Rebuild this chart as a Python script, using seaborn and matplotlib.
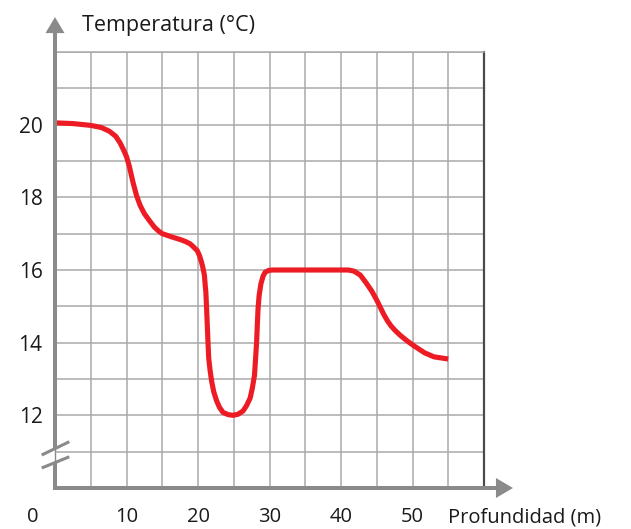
import matplotlib
matplotlib.use("Agg")
import matplotlib.pyplot as plt
import seaborn as sns
import pandas as pd
from matplotlib.ticker import MultipleLocator
from matplotlib.transforms import ScaledTranslation

# ---- data ----
depth = [0, 2.5, 5, 6.5, 7.6, 8.5, 9.1, 9.6, 10.0, 10.4, 10.9, 11.4, 11.9, 12.5, 13.2,
         13.9, 14.5, 15.0, 15.6, 16.5, 17.5, 18.3, 18.9, 19.4, 19.9, 20.2, 20.5, 20.7,
         20.9, 21.0, 21.1, 21.2, 21.3, 21.4, 21.5, 21.7, 21.9, 22.2, 22.6, 23.0, 23.5,
         24.2, 24.9, 25.6, 26.3, 26.8, 27.3, 27.6, 27.9, 28.05, 28.2, 28.3, 28.4, 28.55,
         28.8, 29.1, 29.4, 29.9, 30.5, 35.0, 41.0, 41.8, 42.7, 43.5, 44.3, 45.0, 45.5,
         46.0, 46.5, 47.0, 47.6, 48.3, 49.3, 50.3, 51.7, 53.0, 55.0]
temp = [20.05, 20.03, 19.98, 19.92, 19.82, 19.68, 19.5, 19.3, 19.12, 18.85, 18.42, 18.05,
        17.78, 17.55, 17.36, 17.18, 17.07, 17.0, 16.96, 16.9, 16.84, 16.78, 16.72, 16.63,
        16.53, 16.4, 16.21, 16.05, 15.85, 15.6, 15.39, 14.95, 14.48, 14.0, 13.57, 13.22,
        12.95, 12.65, 12.4, 12.22, 12.08, 12.02, 12.0, 12.03, 12.12, 12.27, 12.48, 12.75,
        13.1, 13.55, 14.03, 14.5, 14.94, 15.3, 15.62, 15.83, 15.94, 15.99, 16.0, 16.0,
        16.0, 15.97, 15.86, 15.65, 15.42, 15.17, 14.97, 14.77, 14.6, 14.46, 14.33, 14.2,
        14.04, 13.9, 13.72, 13.61, 13.55]
x_ticks = [0, 10, 20, 30, 40, 50]
x_tick_labels = ["0", "10", "20", "30", "40", "50"]
y_ticks = [12, 14, 16, 18, 20]
y_tick_labels = ["12", "14", "16", "18", "20"]
x_label = "Profundidad (m)"
y_label = "Temperatura (°C)"

df = pd.DataFrame({"depth": depth, "temp": temp})

sns.set_style("white")
plt.rcParams['font.family'] = ['Open Sans', 'DejaVu Sans']

GRAY = '#8a8a8a'
GRID = '#a9a9a9'
RED = '#ED1C24'
TXT = '#1a1a1a'

fig = plt.figure(figsize=(6.31, 5.29), dpi=100)
ax = fig.add_axes([55/631, 1-488/529, (484-55)/631, (488-52)/529])
ax.set_xlim(0, 60)
ax.set_ylim(10, 22)

ax.xaxis.set_minor_locator(MultipleLocator(5))
ax.yaxis.set_minor_locator(MultipleLocator(1))
ax.set_xticks(x_ticks, x_tick_labels)
ax.set_yticks(y_ticks, y_tick_labels)
ax.grid(True, which='both', color=GRID, lw=1.1)
ax.set_axisbelow(True)
ax.tick_params(which='both', length=0)
ax.tick_params(axis='x', pad=14, labelsize=14.5, labelcolor=TXT)
ax.tick_params(axis='y', pad=9, labelsize=15, labelcolor=TXT)

# shift the "0" label to the left, as in the reference
lab0 = ax.get_xticklabels()[0]
lab0.set_transform(lab0.get_transform() + ScaledTranslation(-22/100, 0, fig.dpi_scale_trans))

for s in ['left', 'bottom']:
    ax.spines[s].set_visible(False)
ax.spines['top'].set_color(GRID)
ax.spines['top'].set_linewidth(1.1)
ax.spines['right'].set_color('#4a4a4a')
ax.spines['right'].set_linewidth(1.6)

sns.lineplot(data=df, x="depth", y="temp", color=RED, lw=3.7, ax=ax,
             estimator=None, sort=False, zorder=5,
             solid_capstyle='butt', solid_joinstyle='round')
ax.set_xlabel("")
ax.set_ylabel("")

# axes with arrows
ax.plot([0, 0], [9.94, 10.70], lw=2.9, color=GRAY, solid_capstyle='butt',
        clip_on=False, zorder=6)
ax.plot([0, 0], [10.70, 11.085], lw=1.0, color=GRAY, clip_on=False, zorder=6)
ax.arrow(0, 11.085, 0, 22.96 - 11.085, width=0.56, head_width=2.66, head_length=0.44,
         length_includes_head=True, color=GRAY, lw=0, clip_on=False, zorder=6)
ax.arrow(-0.28, 10.0, 64.05 + 0.28, 0, width=0.11, head_width=0.55, head_length=2.38,
         length_includes_head=True, color=GRAY, lw=0, clip_on=False, zorder=6)

# axis break marks
ax.plot([-1.86, 2.0], [10.908, 11.274], lw=2.2, color=GRAY, solid_capstyle='butt',
        clip_on=False, zorder=7)
ax.plot([-1.86, 2.0], [10.55, 10.86], lw=2.2, color=GRAY, solid_capstyle='butt',
        clip_on=False, zorder=7)

fig.text(82/631, 1 - 25/529, y_label, ha='left', va='center', fontsize=15.5, color=TXT)
fig.text(448/631, 1 - 517/529, x_label, ha='left', va='center', fontsize=14.5, color=TXT)

fig.savefig("out.png", dpi=100, facecolor='white')
